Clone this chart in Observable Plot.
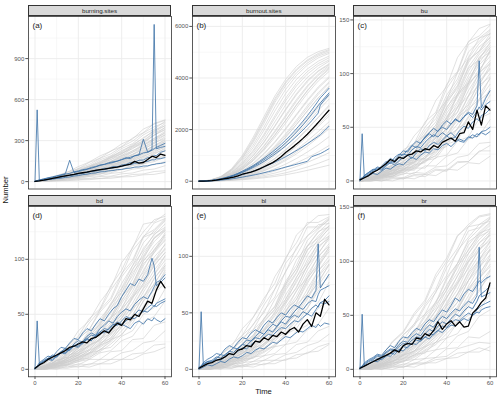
<!DOCTYPE html>
<html><head><meta charset="utf-8">
<script src="https://cdn.jsdelivr.net/npm/d3@7"></script>
<script src="https://cdn.jsdelivr.net/npm/@observablehq/plot@0.6"></script>
<style>
body{margin:0;background:#fff;font-family:"Liberation Sans",Arial,sans-serif;font-weight:400;}
#root{position:relative;width:500px;height:398px;overflow:hidden;background:#fff;}
.strip{position:absolute;box-sizing:border-box;background:#d9d9d9;border:0.7px solid #333;font-size:6.2px;color:#262626;text-align:center;display:flex;align-items:center;justify-content:center;font-weight:400;}
.ttl{position:absolute;font-size:7.6px;color:#111;white-space:nowrap;font-weight:400;}
</style></head><body><div id="root"></div><script>
// time grids
const tG = [0,5,10,15,20,25,30,35,40,45,50,55,60];
const tB = [0,1,2,4,6,8,10,12,14,16,18,20,22,24,26,28,30,32,34,36,38,40,42,44,46,48,50,52,54,55,56,58,60];
const tM = [0,2,4,6,8,10,12,14,16,18,20,22,24,26,28,30,32,34,36,38,40,42,44,46,48,50,52,54,56,58,60];

// panel names / labels / ticks
const panelNames = ["burning.sites","burnout.sites","bu","bd","bl","br"];
const panelLabels = ["(a)","(b)","(c)","(d)","(e)","(f)"];
const xTicks = [0,20,40,60];
const xMinor = [10,30,50];
const yTicksA = [0,300,600,900], yMinorA = [150,450,750,1050];
const yTicksB = [0,2000,4000,6000], yMinorB = [1000,3000,5000];
const yTicksC = [0,50,100,150], yMinorC = [25,75,125];
const yTicksD = [0,50,100], yMinorD = [25,75,125];
const yTicksE = [0,50,100], yMinorE = [25,75,125];
const yTicksF = [0,50,100,150], yMinorF = [25,75,125];

// ---------- (a) burning.sites ----------
const aGrey = [
[2,19,44,70,110,143,188,222,276,312,384,421,448],
[1,15,38,60,95,125,170,203,254,296,356,401,432],
[2,13,33,57,80,115,142,186,219,272,314,376,408],
[1,12,27,50,70,103,128,172,201,256,296,355,392],
[1,14,29,54,74,108,132,175,206,252,286,340,378],
[2,10,26,42,68,89,124,148,192,224,274,314,368],
[1,11,22,42,57,87,106,144,170,216,248,305,342],
[1,8,23,35,58,75,105,126,166,194,242,278,328],
[2,11,19,37,50,75,92,124,146,188,218,266,301],
[1,7,20,30,50,63,91,108,144,168,212,244,293],
[1,10,18,35,45,67,81,110,128,166,191,236,268],
[1,6,18,27,45,55,79,94,126,146,186,214,258],
[1,9,16,30,38,58,69,96,110,144,166,209,236],
[1,6,16,23,39,47,69,80,108,124,160,184,225],
[1,7,13,25,32,49,57,80,91,120,136,172,196],
[1,4,13,18,32,39,57,65,89,100,130,146,182],
[1,6,9,19,23,37,42,60,68,91,101,129,144],
[1,3,9,12,21,24,37,40,57,63,84,92,116],
[1,4,5,11,13,21,23,34,38,52,56,74,79],
[1,2,6,7,12,14,22,24,34,37,50,53,68],
[2,17,36,69,95,140,172,224,256,318,358,426,452],
[1,13,35,55,90,114,159,189,242,278,342,384,442],
[1,13,25,49,65,98,120,163,190,245,278,342,382],
[1,10,28,40,66,82,118,141,186,214,268,304,360],
[1,7,12,24,30,47,55,78,88,117,130,165,186],
[1,14,30,55,78,110,138,180,214,262,300,362,410],
[2,12,31,46,77,96,134,160,208,240,292,338,398],
[1,11,24,45,62,90,112,150,178,226,260,318,352],
[1,9,25,38,60,78,108,130,172,200,250,290,340],
[2,12,22,40,52,80,98,134,154,200,232,284,316],
[1,8,21,33,52,68,96,114,152,178,226,260,310],
[1,10,18,33,44,66,84,112,134,176,202,250,282],
[1,7,19,28,46,58,84,100,136,158,202,232,276],
[2,9,20,36,48,72,90,122,142,186,210,262,292],
[1,13,34,52,84,106,148,176,228,262,322,370,424],
[1,8,17,31,40,60,74,102,120,156,182,224,250],
[1,6,15,24,40,50,72,86,116,136,176,200,244]
];
const aBlue = [
[2,525,6,11,15,23,27,35,39,48,50,60,62,72,74,85,86,97,98,110,108,122,126,140,142,156,158,175,180,192,190,215,225],
[1,8,12,18,26,30,40,45,55,60,72,78,88,92,104,110,122,126,138,145,150,162,175,168,190,196,210,215,235,1150,240,250,258],
[2,6,12,20,28,35,42,50,58,156,66,74,82,90,98,108,118,126,132,140,150,160,170,178,188,196,310,215,230,240,250,265,280],
[1,5,9,12,19,23,31,33,41,45,52,55,63,66,75,77,85,88,97,99,110,112,122,124,134,136,145,148,160,158,166,168,176],
[1,4,8,10,15,17,23,25,31,34,41,44,51,54,61,63,71,73,79,81,88,89,96,99,106,107,114,115,124,125,130,133,140]
];
const aMean = [2,6,11,17,23,30,36,42,47,53,60,65,70,76,82,88,92,97,102,106,114,120,128,148,136,140,162,186,176,202,192];

// ---------- (b) burnout.sites ----------
const bGrey = [
[0,40,180,480,1000,1700,2500,3300,3950,4450,4800,5020,5150],
[0,35,160,420,880,1500,2250,3050,3700,4200,4580,4850,5000],
[0,30,140,370,760,1300,1980,2720,3400,3950,4350,4650,4850],
[0,30,130,330,680,1150,1750,2450,3120,3700,4150,4480,4700],
[0,25,110,290,590,1000,1530,2150,2800,3400,3900,4280,4550],
[0,25,100,260,520,880,1350,1900,2500,3100,3650,4100,4420],
[0,20,90,230,460,780,1200,1700,2250,2850,3400,3880,4250],
[0,20,85,210,410,700,1080,1530,2050,2600,3150,3650,4050],
[0,18,75,185,360,610,950,1360,1840,2370,2920,3430,3850],
[0,16,70,170,330,560,870,1250,1700,2200,2730,3230,3650],
[0,15,62,150,290,490,760,1100,1500,1960,2470,2960,3400],
[0,14,56,135,260,440,680,990,1360,1790,2260,2740,3180],
[0,12,50,120,230,390,600,870,1200,1580,2010,2460,2900],
[0,11,45,108,205,345,530,770,1060,1400,1790,2200,2600],
[0,10,40,95,180,300,460,670,920,1220,1560,1920,2300],
[0,9,35,82,155,260,400,580,800,1060,1360,1690,2030],
[0,8,30,70,130,215,330,480,660,880,1130,1410,1720],
[0,7,26,60,110,180,275,395,540,710,910,1130,1380],
[0,6,22,50,90,145,220,315,430,570,730,910,1100],
[0,5,18,40,72,115,170,240,325,430,550,690,850],
[0,4,15,32,57,90,132,185,250,330,420,520,620],
[0,40,170,450,950,1620,2400,3200,3850,4350,4700,4950,5100],
[0,28,120,310,640,1080,1640,2300,2960,3550,4020,4380,4650],
[0,22,95,245,490,830,1270,1800,2370,2970,3520,4000,4380],
[0,17,72,180,350,590,910,1310,1780,2300,2840,3360,3800],
[0,32,150,400,820,1400,2100,2880,3560,4100,4500,4780,4950],
[0,27,125,340,700,1200,1820,2540,3220,3800,4250,4560,4780],
[0,23,105,280,570,980,1500,2120,2760,3350,3850,4250,4520],
[0,19,88,230,470,810,1250,1780,2360,2950,3500,3970,4330],
[0,16,74,190,390,670,1040,1500,2010,2560,3100,3600,4000],
[0,14,62,160,325,560,870,1260,1710,2200,2720,3220,3680],
[0,12,52,135,275,470,730,1060,1450,1890,2360,2850,3300],
[0,10,44,112,228,390,610,890,1230,1610,2030,2480,2950],
[0,9,38,95,190,325,505,740,1020,1350,1720,2120,2520],
[0,8,32,80,160,270,420,610,850,1130,1450,1800,2180],
[0,36,165,440,900,1560,2340,3130,3800,4300,4660,4900,5060],
[0,21,96,260,530,900,1380,1950,2560,3170,3700,4150,4480]
];
const bBlue = [
[0,2,5,15,35,60,95,135,185,240,310,390,470,560,660,770,890,1010,1140,1280,1430,1590,1760,1940,2130,2330,2540,2760,2990,3110,3230,3410,3600],
[0,2,5,14,32,55,88,125,170,225,290,365,440,525,620,720,830,945,1065,1195,1335,1485,1645,1815,1995,2185,2385,2595,2815,2925,3035,3230,3420],
[0,2,4,12,28,50,80,115,158,208,268,335,408,488,575,668,768,875,988,1108,1235,1370,1512,1662,1820,1986,2160,2342,2540,2640,2950,3160,3350],
[0,1,3,10,22,40,62,90,122,160,204,252,304,360,420,484,552,624,700,780,864,952,1044,1140,1240,1344,1452,1564,1680,1740,1800,1960,2130],
[0,1,2,7,15,27,42,60,80,104,130,158,188,220,254,290,328,368,410,454,500,548,590,635,680,725,770,950,1010,1040,1070,1160,1260]
];
const bMean = [0,5,12,25,45,75,100,125,160,210,270,310,355,410,480,560,640,720,830,960,1110,1240,1370,1510,1660,1820,2000,2180,2370,2560,2750];

// ---------- (c) bu ----------
const cGrey = [
[1,5,9,19,26,42,53,75,88,115,129,142,146],
[1,4,10,15,26,33,50,62,86,101,127,133,141],
[0,3,7,15,20,34,43,62,75,101,115,133,137],
[1,5,8,12,22,27,42,52,75,89,113,121,134],
[0,2,8,11,19,24,39,47,69,81,105,113,129],
[1,4,5,12,15,26,32,49,58,81,92,113,120],
[0,2,7,9,17,20,33,40,59,69,91,101,121],
[1,3,4,10,12,22,26,41,48,69,79,101,109],
[0,1,6,7,15,16,28,33,50,57,79,89,108],
[1,3,3,8,10,18,21,35,40,59,67,89,97],
[0,2,5,6,12,13,23,27,42,48,67,76,96],
[0,1,3,7,8,15,17,29,32,49,55,75,83],
[0,1,4,4,10,10,19,21,34,38,55,62,80],
[0,0,2,5,6,12,12,22,24,37,41,58,63],
[0,1,3,3,7,7,14,14,23,26,39,42,57],
[0,0,1,4,3,8,7,13,14,22,24,35,36],
[0,1,0,3,2,6,6,11,10,18,18,28,28],
[0,0,1,0,3,2,6,5,11,10,17,16,23],
[0,1,0,2,2,5,4,10,9,17,18,27,33],
[1,4,10,15,29,35,55,64,90,102,130,135,145],
[1,2,8,11,23,25,42,49,74,86,112,121,137],
[0,3,5,13,14,26,30,47,56,80,90,115,124],
[0,1,6,7,17,17,32,36,56,64,90,101,122],
[1,3,4,10,10,20,21,36,42,61,71,93,105],
[0,1,5,4,11,11,20,23,37,41,59,67,86],
[1,3,9,14,24,31,47,58,80,95,120,130,140],
[0,4,7,14,21,30,44,55,77,92,114,128,138],
[1,2,8,12,22,27,41,52,72,88,110,125,133],
[0,3,6,13,18,27,38,50,68,84,106,120,131],
[1,3,6,10,18,24,36,46,66,80,102,118,128],
[0,2,7,10,16,23,34,44,63,78,98,115,126],
[1,2,5,10,15,22,32,42,60,74,95,110,124],
[0,3,5,8,15,20,30,40,56,72,92,108,119],
[0,1,5,9,13,19,28,38,54,68,88,104,116],
[1,2,4,8,13,18,27,35,50,64,84,100,112],
[0,2,4,7,11,17,25,33,47,60,79,96,110],
[0,1,3,7,11,15,23,30,44,56,74,91,104],
[1,2,4,6,10,14,21,29,41,53,70,86,100],
[0,1,3,6,9,13,19,26,38,49,65,81,95],
[0,1,2,5,8,12,18,24,35,45,60,76,90]
];
const cBlue = [
[1,44,3,6,8,11,10,14,17,15,19,22,24,21,26,30,28,33,36,34,38,42,45,41,47,51,49,55,58,56,61,63,67],
[2,3,5,8,11,10,14,18,16,22,25,24,29,33,31,36,40,44,41,47,50,48,53,57,55,60,64,62,70,112,68,77,84],
[1,2,5,8,10,13,12,17,21,19,24,28,27,33,37,35,41,45,49,46,52,56,53,58,55,60,63,59,65,69,66,71,74],
[0,2,3,5,7,6,9,12,11,14,16,15,19,22,20,24,27,26,30,29,33,35,32,36,39,37,41,40,44,43,46,47,50],
[1,2,4,7,9,12,11,15,18,17,22,25,24,29,32,31,36,40,43,41,45,42,39,41,37,36,40,43,41,44,45,43,46]
];
const cMean = [1,3,5,8,10,13,16,20,18,22,21,24,25,28,27,30,29,33,31,36,38,40,37,44,45,55,48,66,52,70,66];

// ---------- (d) bd ----------
const dGrey = [
[1,6,14,20,35,44,61,74,97,110,132,134,141],
[1,4,10,19,28,42,54,72,86,108,120,133,137],
[0,5,9,16,28,36,52,63,84,97,120,124,135],
[1,3,8,16,21,35,43,60,74,94,108,123,129],
[0,4,6,14,20,31,40,56,66,88,100,119,126],
[1,2,8,11,20,26,38,47,66,77,99,108,124],
[0,3,5,13,15,26,31,47,55,76,88,108,118],
[1,2,6,9,17,21,33,38,55,66,85,98,114],
[0,3,5,10,13,22,26,40,46,65,76,95,106],
[1,1,5,8,13,18,28,32,47,56,73,86,103],
[0,3,4,8,11,17,22,33,39,55,64,83,94],
[0,1,5,6,11,14,22,26,39,45,62,72,90],
[0,2,2,7,8,15,17,27,31,45,52,69,78],
[0,1,4,4,9,10,18,20,30,35,50,56,73],
[0,0,3,4,7,9,15,17,26,30,43,48,62],
[0,1,1,4,4,9,9,16,17,27,28,40,43],
[0,0,2,2,5,4,9,9,15,17,24,26,35],
[0,1,0,3,2,5,5,9,9,14,15,22,23],
[0,0,1,1,3,2,5,5,9,9,14,16,20],
[1,6,12,21,30,46,55,76,90,111,125,136,139],
[1,3,11,16,28,36,54,65,87,99,121,127,137],
[0,4,6,15,21,33,41,59,70,91,103,120,127],
[0,2,8,11,19,25,38,46,63,76,96,106,122],
[1,3,4,10,14,22,27,41,49,66,78,97,109],
[0,1,5,6,12,15,24,28,42,49,66,77,94],
[1,3,8,14,22,32,46,58,78,94,115,126,136],
[0,4,7,13,21,29,42,55,73,90,110,122,132],
[1,2,8,11,19,28,39,51,70,85,106,119,128],
[0,3,6,12,17,26,37,48,66,82,102,116,126],
[1,2,6,10,17,24,34,46,62,78,98,112,122],
[0,3,5,10,15,23,32,43,60,74,94,109,120],
[1,2,5,9,15,21,30,41,56,71,90,106,117],
[0,1,5,8,13,20,28,38,53,68,86,102,113],
[0,2,4,8,13,18,27,36,50,64,82,98,110],
[1,1,4,7,11,17,25,34,47,60,78,94,106],
[0,2,3,7,10,15,23,31,44,57,74,90,103],
[0,1,3,6,10,14,21,29,41,53,70,86,99],
[1,2,3,5,9,13,20,27,38,49,66,82,96],
[0,1,2,5,8,12,18,25,35,46,62,78,92],
[0,1,2,4,7,11,16,23,32,42,57,73,88]
];
const dBlue = [
[1,44,5,7,10,9,13,16,15,19,22,21,25,28,26,31,34,33,37,41,40,44,48,46,50,54,52,56,59,57,60,62,64],
[1,3,6,9,12,11,16,20,19,24,28,27,33,37,35,41,46,44,50,55,58,66,72,78,76,82,80,86,101,94,76,79,83],
[1,2,5,8,10,13,12,16,19,18,23,26,25,30,33,31,37,40,44,42,48,52,55,53,59,63,66,64,71,75,79,81,86],
[0,2,4,7,9,8,12,15,14,18,21,20,24,27,26,30,32,35,34,38,41,40,44,47,46,50,53,52,56,58,57,60,62],
[1,2,4,7,9,12,11,15,18,17,21,24,23,28,31,30,34,37,36,40,43,41,39,37,42,44,41,46,44,47,45,43,46]
];
const dMean = [1,4,6,9,11,13,15,17,20,21,23,25,24,28,29,32,35,33,38,42,40,46,45,50,48,55,62,60,72,80,74];

// ---------- (e) bl ----------
const eGrey = [
[1,6,12,22,30,46,60,82,97,119,128,136,137],
[0,4,11,17,30,39,57,71,94,106,126,126,134],
[1,3,10,15,28,35,52,64,87,101,118,125,132],
[0,4,8,15,22,35,44,62,75,97,109,122,126],
[1,2,8,12,21,28,43,53,72,86,106,113,125],
[0,3,6,12,18,28,35,51,62,82,94,112,118],
[1,2,6,10,17,22,35,43,60,72,92,102,117],
[0,3,4,10,14,22,28,42,51,70,81,100,109],
[0,1,6,7,14,18,29,34,50,59,78,90,106],
[1,3,3,9,10,19,22,35,41,57,67,87,97],
[0,1,4,5,11,14,23,27,40,48,65,76,93],
[0,2,2,7,8,15,17,28,32,46,54,72,82],
[0,0,4,4,9,10,18,20,31,36,51,59,77],
[0,1,1,5,5,11,12,20,22,34,39,54,62],
[0,0,2,2,6,7,12,14,22,24,35,40,54],
[0,1,0,4,3,7,8,13,14,22,24,34,38],
[0,0,2,1,4,4,8,8,13,15,21,24,31],
[0,1,1,3,2,5,4,8,8,13,14,20,23],
[0,0,1,1,3,2,5,5,9,10,15,16,22],
[1,5,13,20,36,46,63,76,99,112,130,130,135],
[0,5,10,18,25,40,50,71,86,108,118,128,129],
[1,2,9,13,22,30,45,55,76,89,109,116,127],
[0,3,5,12,16,26,33,49,59,79,91,109,116],
[0,1,6,8,15,19,30,36,52,62,81,92,108],
[0,2,3,8,10,17,21,32,38,54,63,82,93],
[1,3,9,13,23,30,45,56,78,92,114,124,133],
[0,4,7,13,20,29,42,53,74,89,109,121,130],
[1,2,7,11,19,26,39,50,70,85,105,118,127],
[0,3,6,11,17,25,36,47,66,81,101,115,124],
[1,2,6,10,16,23,34,44,62,77,97,111,121],
[0,2,5,9,15,21,31,42,58,73,92,107,118],
[1,2,4,9,14,20,29,39,55,69,88,103,115],
[0,1,5,8,12,18,27,36,51,65,84,99,111],
[0,2,4,7,12,17,25,34,48,62,80,95,108],
[1,1,3,7,10,15,23,31,45,58,76,92,104],
[0,2,3,6,10,14,21,29,41,54,71,87,100],
[0,1,3,6,9,13,19,27,38,50,67,83,96],
[1,1,2,5,8,12,18,25,35,46,62,78,92],
[0,1,2,4,7,11,16,22,32,43,58,74,88],
[0,0,2,4,7,10,15,21,30,40,54,69,84]
];
const eBlue = [
[1,51,4,6,7,9,8,11,14,13,16,19,18,22,25,24,28,31,30,34,37,36,40,43,42,46,49,47,53,56,59,61,65],
[2,3,6,9,11,14,13,18,21,19,24,28,27,32,35,33,39,43,41,46,50,48,53,57,55,60,65,63,70,111,72,78,84],
[1,3,5,7,6,10,13,12,16,19,18,22,26,25,29,33,31,36,40,38,43,47,46,51,55,53,58,61,60,66,70,72,74],
[0,1,2,4,3,5,7,6,9,11,10,12,15,14,17,19,18,21,24,23,26,29,28,31,34,33,36,39,37,40,38,41,40],
[1,2,4,7,8,11,10,13,16,15,19,22,21,25,28,27,31,35,33,38,42,40,45,48,46,51,49,54,57,55,59,58,60]
];
const eMean = [1,3,5,6,8,9,11,14,13,17,18,21,20,25,24,28,26,30,29,33,31,35,37,33,40,44,38,50,47,62,57];

// ---------- (f) br ----------
const fGrey = [
[1,7,13,25,34,50,62,85,100,123,134,142,144],
[1,4,12,19,32,42,60,74,98,112,132,134,141],
[0,5,9,19,27,42,51,72,87,110,122,134,137],
[1,3,10,15,27,34,51,62,85,98,118,125,135],
[0,4,8,15,22,34,42,60,73,96,107,123,128],
[1,2,8,12,21,30,38,55,66,87,100,117,124],
[0,3,6,12,17,28,34,50,60,80,93,111,119],
[1,2,6,9,17,22,33,41,58,69,89,101,118],
[0,3,4,10,13,21,29,36,52,62,82,94,111],
[1,1,5,7,13,17,27,32,47,56,75,87,105],
[0,2,3,8,10,17,21,31,38,54,64,84,95],
[0,0,4,5,10,13,21,25,38,44,61,72,91],
[0,2,2,6,7,14,15,25,29,43,50,67,77],
[0,0,3,3,8,9,16,18,29,33,47,54,70],
[0,1,1,4,4,9,10,18,20,31,35,49,55],
[0,0,2,2,5,5,10,11,19,20,30,29,35],
[0,1,0,3,2,6,6,11,12,19,22,25,24],
[0,0,1,0,3,2,6,6,10,11,16,16,21],
[0,1,0,2,2,5,5,9,10,15,16,20,17],
[1,6,12,26,35,52,64,88,103,124,132,141,143],
[1,3,11,17,32,40,58,71,94,108,128,131,140],
[0,4,7,16,22,36,44,63,76,98,110,126,130],
[0,1,7,11,20,25,40,48,67,80,100,110,126],
[0,3,4,11,14,23,30,43,52,70,82,101,111],
[0,0,5,7,13,17,26,33,47,55,73,84,102],
[1,4,9,15,25,33,49,61,83,98,120,130,139],
[0,3,8,14,22,31,45,57,78,94,115,127,136],
[1,2,8,12,21,28,42,54,74,90,111,124,133],
[0,3,6,12,18,27,39,50,70,86,107,120,130],
[1,2,6,11,17,25,36,48,66,82,103,117,127],
[0,3,5,10,16,23,34,45,62,78,99,113,124],
[1,2,5,9,15,22,32,42,59,74,95,110,121],
[0,1,5,8,14,20,29,40,55,70,90,106,118],
[0,2,4,8,13,19,27,37,52,66,86,102,114],
[1,1,4,7,12,17,26,35,49,62,82,98,110],
[0,2,3,7,11,16,24,32,45,58,77,94,106],
[0,1,3,6,10,15,22,30,42,55,73,89,102],
[1,1,3,5,9,13,20,28,39,51,68,84,97],
[0,1,2,5,8,12,18,25,36,47,63,79,92],
[0,0,2,4,7,11,17,23,33,43,58,74,87]
];
const fBlue = [
[1,51,3,5,7,10,9,12,15,14,18,21,20,24,27,26,30,33,32,36,40,39,43,46,45,49,52,50,55,57,59,61,63],
[1,3,5,8,10,13,12,16,19,18,23,26,25,30,33,31,37,41,39,45,49,47,52,56,54,59,63,61,68,113,67,69,71],
[2,3,6,9,11,14,13,18,22,20,26,30,29,34,38,36,42,46,44,50,55,53,59,66,63,70,74,72,78,82,80,84,86],
[1,2,4,7,9,12,11,15,18,17,21,24,23,27,30,29,33,37,35,40,44,42,47,51,49,54,58,56,63,68,70,73,77],
[0,2,3,5,8,7,10,13,12,16,18,17,21,24,23,27,30,28,33,36,34,38,41,40,44,47,45,50,53,52,55,57,58]
];
const fMean = [1,3,5,7,9,11,13,15,18,16,22,24,23,29,28,33,31,36,44,37,42,45,40,44,39,40,52,56,62,66,80];

// ---------- assemble ----------
const greys = [aGrey,bGrey,cGrey,dGrey,eGrey,fGrey];
const blues = [aBlue,bBlue,cBlue,dBlue,eBlue,fBlue];
const means = [aMean,bMean,cMean,dMean,eMean,fMean];
const yTicksAll = [yTicksA,yTicksB,yTicksC,yTicksD,yTicksE,yTicksF];
const yMinorAll = [yMinorA,yMinorB,yMinorC,yMinorD,yMinorE,yMinorF];
const yDomains = [[-54,1208],[-302,6384],[-7.5,153.2],[-6.8,148],[-6.6,144.1],[-6.9,150.7]];

function toRows(times, series, key) {
  const out = [];
  series.forEach((s, i) => s.forEach((v, j) => out.push({t: times[j], v, id: key + i})));
  return out;
}

const colLeft = [28, 192.3, 352.7], colMl = [28, 21, 17];
const stripTop = [5, 194.8], panelTop = [15.6, 205.5], panelH = [172.5, 170.3];
const PW = 143;
const root = document.getElementById("root");

panelNames.forEach((name, i) => {
  const col = i % 3, row = Math.floor(i / 3);
  const ml = colMl[col], mt = 2, mr = 2, mb = row === 1 ? 16 : 2;
  const greyRows = toRows(tG, greys[i], "g");
  const blueRows = toRows(tB, blues[i], "b");
  const meanRows = means[i].map((v, j) => ({t: tM[j], v}));
  const svg = Plot.plot({
    width: ml + PW + mr,
    height: mt + panelH[row] + mb,
    marginLeft: ml, marginTop: mt, marginRight: mr, marginBottom: mb,
    style: "background:transparent;overflow:visible;font-family:'Liberation Sans',Arial,sans-serif;font-size:6px;color:#555;font-weight:400;",
    x: {domain: [-3, 63], ticks: xTicks, tickSize: 2.7, tickPadding: 1.5, label: null, axis: row === 1 ? "bottom" : null},
    y: {domain: yDomains[i], ticks: yTicksAll[i], tickSize: 2.7, tickPadding: 1.5, label: null, tickFormat: d => String(d)},
    marks: [
      Plot.ruleX(xMinor, {stroke: "#efefef", strokeWidth: 0.5}),
      Plot.ruleY(yMinorAll[i], {stroke: "#efefef", strokeWidth: 0.5}),
      Plot.ruleX(xTicks, {stroke: "#ebebeb", strokeWidth: 0.9}),
      Plot.ruleY(yTicksAll[i], {stroke: "#ebebeb", strokeWidth: 0.9}),
      Plot.line(greyRows, {x: "t", y: "v", z: "id", stroke: "#cdcdcd", strokeWidth: 0.6, clip: true}),
      Plot.line(blueRows, {x: "t", y: "v", z: "id", stroke: "#3a70a6", strokeWidth: 0.8, clip: true}),
      Plot.line(meanRows, {x: "t", y: "v", stroke: "#000", strokeWidth: 1.3, clip: true}),
      Plot.frame({stroke: "#333", strokeWidth: 0.8}),
      Plot.text([panelLabels[i]], {text: d => d, frameAnchor: "top-left", dx: 4, dy: 5.5, fontSize: 8, fill: "#222"})
    ]
  });
  svg.style.position = "absolute";
  svg.style.left = (colLeft[col] - ml) + "px";
  svg.style.top = (panelTop[row] - mt) + "px";
  root.appendChild(svg);

  const strip = document.createElement("div");
  strip.className = "strip";
  strip.style.left = colLeft[col] + "px";
  strip.style.top = stripTop[row] + "px";
  strip.style.width = PW + "px";
  strip.style.height = (panelTop[row] - stripTop[row] + 0.4) + "px";
  strip.textContent = name;
  root.appendChild(strip);
});

const yt = document.createElement("div");
yt.className = "ttl";
yt.textContent = "Number";
yt.style.left = "5px"; yt.style.top = "190px";
yt.style.transform = "translate(-50%,-50%) rotate(-90deg)";
root.appendChild(yt);

const xt = document.createElement("div");
xt.className = "ttl";
xt.textContent = "Time";
xt.style.left = "263.5px"; xt.style.top = "390.5px";
xt.style.transform = "translate(-50%,-50%)";
root.appendChild(xt);
</script></body></html>
